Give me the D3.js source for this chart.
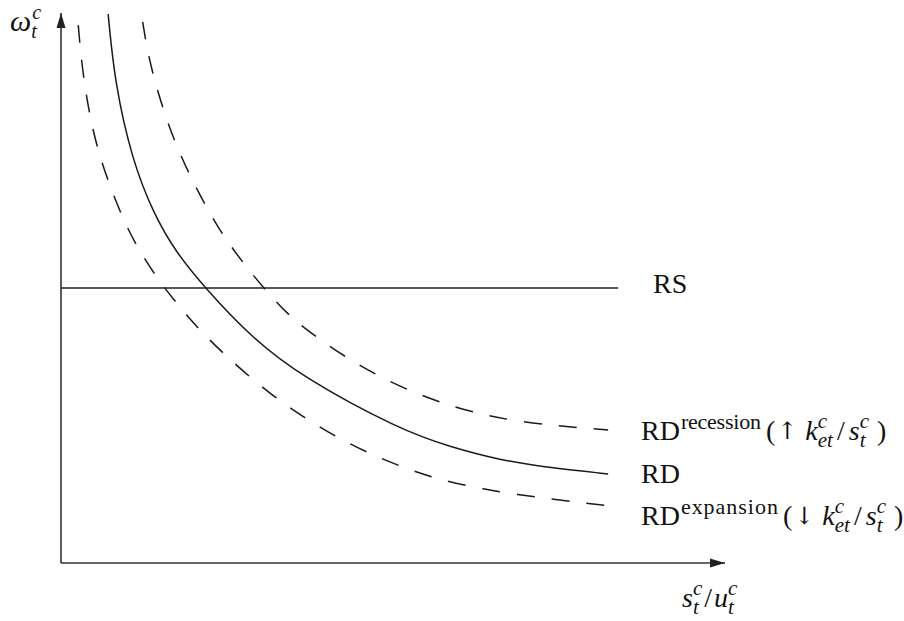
<!DOCTYPE html>
<html>
<head>
<meta charset="utf-8">
<script src="https://cdn.jsdelivr.net/npm/d3@7"></script>
<style>
    body { margin: 0; background: #fff; }
    .axis { stroke: #333; stroke-width: 1.6; fill: none; }
    .rs { stroke: #222; stroke-width: 1.3; fill: none; }
    .rd { stroke: #1a1a1a; stroke-width: 1.5; fill: none; }
    .dashed { stroke: #1a1a1a; stroke-width: 1.5; fill: none; stroke-dasharray: 18,17; }
</style>
</head>
<body>
<script>
//curve points (abstract units, 0-10 on both axes)
var rdCurve = [[0.71, 9.98], [0.81, 8.73], [1.07, 7.33], [1.39, 6.36], [1.73, 5.65], [2.17, 5.00],
    [2.86, 4.11], [3.63, 3.38], [5.11, 2.42], [5.86, 2.11], [6.61, 1.87], [7.36, 1.73], [8.24, 1.62]];
var recessionCurve = [[1.23, 9.84], [1.34, 9.02], [1.69, 7.64], [2.20, 6.42], [2.58, 5.69],
    [3.22, 4.75], [3.64, 4.27], [4.61, 3.47], [5.66, 2.91], [6.76, 2.56], [8.24, 2.42]];
var expansionCurve = [[0.26, 9.78], [0.32, 8.93], [0.51, 7.56], [0.93, 6.24], [1.19, 5.65],
    [1.52, 5.05], [1.90, 4.49], [2.27, 4.00], [3.10, 3.09], [4.10, 2.29], [5.11, 1.73],
    [6.20, 1.33], [8.24, 1.04]];
var rsLevel = 5.0;
var rsEnd = 8.39;
var axisMax = [10, 10];

var serif = "'Liberation Serif', 'Times New Roman', 'DejaVu Serif', serif";

//frame
var width = 904,
    height = 621;

var svg = d3.select("body")
    .append("svg")
    .attr("width", width)
    .attr("height", height);

var x = d3.scaleLinear().domain([0, axisMax[0]]).range([61, 725]);
var y = d3.scaleLinear().domain([0, axisMax[1]]).range([563, 13]);

//arrow head for the axes
svg.append("defs").append("marker")
    .attr("id", "arrow")
    .attr("markerUnits", "userSpaceOnUse")
    .attr("viewBox", "0 -5 15 10")
    .attr("refX", 15)
    .attr("refY", 0)
    .attr("markerWidth", 15)
    .attr("markerHeight", 10)
    .attr("orient", "auto")
    .append("path")
    .attr("d", "M0,-4.5L15,0L0,4.5Z")
    .attr("fill", "#222");

//axes
svg.append("line").attr("class", "axis")
    .attr("x1", x(0)).attr("y1", y(0))
    .attr("x2", x(axisMax[0])).attr("y2", y(0))
    .attr("marker-end", "url(#arrow)");
svg.append("line").attr("class", "axis")
    .attr("x1", x(0)).attr("y1", y(0))
    .attr("x2", x(0)).attr("y2", y(axisMax[1]))
    .attr("marker-end", "url(#arrow)");

//RS line
svg.append("line").attr("class", "rs")
    .attr("x1", x(0)).attr("y1", y(rsLevel))
    .attr("x2", x(rsEnd)).attr("y2", y(rsLevel));

//basis spline keeps the curves smooth through the read-off points
var line = d3.line()
    .x(function(d){ return x(d[0]); })
    .y(function(d){ return y(d[1]); })
    .curve(d3.curveBasis);

svg.append("path").datum(rdCurve).attr("class", "rd").attr("d", line);
svg.append("path").datum(recessionCurve).attr("class", "dashed").attr("d", line);
svg.append("path").datum(expansionCurve).attr("class", "dashed").attr("d", line);

//lay out a little math expression piece by piece
//items: {t, s(size), it(italic), kern, sup, sub}
function addText(g, px, py, size, italic, str, family){
    return g.append("text")
        .attr("x", px).attr("y", py)
        .attr("font-family", family || serif)
        .attr("font-size", size)
        .attr("font-style", italic ? "italic" : "normal")
        .attr("fill", "#111")
        .text(str);
}

function mathText(x0, y0, items){
    var g = svg.append("g");
    var cx = x0;
    items.forEach(function(d){
        cx += d.kern || 0;
        if (d.t) {
            var t = addText(g, cx, y0 + (d.dy || 0), d.s || 28, d.it, d.t, d.family);
            cx += t.node().getComputedTextLength();
        }
        var w = 0;
        if (d.sup) {
            var a = addText(g, cx + (d.supKern || 0), y0 - (d.raise || 11), d.ss || 21, d.supIt, d.sup);
            if (d.supLen) a.attr("textLength", d.supLen).attr("lengthAdjust", "spacing");
            w = Math.max(w, (d.supLen || a.node().getComputedTextLength()) + (d.supKern || 0));
        }
        if (d.sub) {
            var b = addText(g, cx, y0 + (d.drop || 6), d.ss || 21, true, d.sub);
            w = Math.max(w, b.node().getComputedTextLength());
        }
        cx += w + (d.after || 0);
    });
}

//the bracketed shock part shared by both shifted curves
function shock(arrow){
    return [
        {t: "(", kern: 5},
        {t: arrow, s: 24, kern: 2, family: "'DejaVu Serif', serif", dy: -1},
        {t: "k", it: true, kern: 8, sup: "c", supIt: true, sub: "et", raise: 12, drop: 7, after: 1},
        {t: "/", kern: 3, after: 3},
        {t: "s", it: true, kern: 1, sup: "c", supIt: true, sub: "t", raise: 12, drop: 7},
        {t: ")", kern: 8}
    ];
}

//axis labels
mathText(10, 31, [{t: "ω", it: true, s: 30, sup: "c", supIt: true, sub: "t", ss: 20, raise: 12, drop: 7, supKern: 1}]);
mathText(682, 607, [
    {t: "s", it: true, sup: "c", supIt: true, sub: "t", raise: 12, drop: 7},
    {t: "/", kern: 2, after: 1},
    {t: "u", it: true, kern: 1, sup: "c", supIt: true, sub: "t", raise: 12, drop: 7}
]);

//curve labels
mathText(653, 293, [{t: "RS"}]);
mathText(641, 440, [{t: "RD", sup: "recession", ss: 22, raise: 11, supKern: 1, supLen: 80}].concat(shock("↑")));
mathText(641, 483, [{t: "RD"}]);
mathText(641, 525, [{t: "RD", sup: "expansion", ss: 22, raise: 11, supKern: 1, supLen: 97}].concat(shock("↓")));
</script>
</body>
</html>
